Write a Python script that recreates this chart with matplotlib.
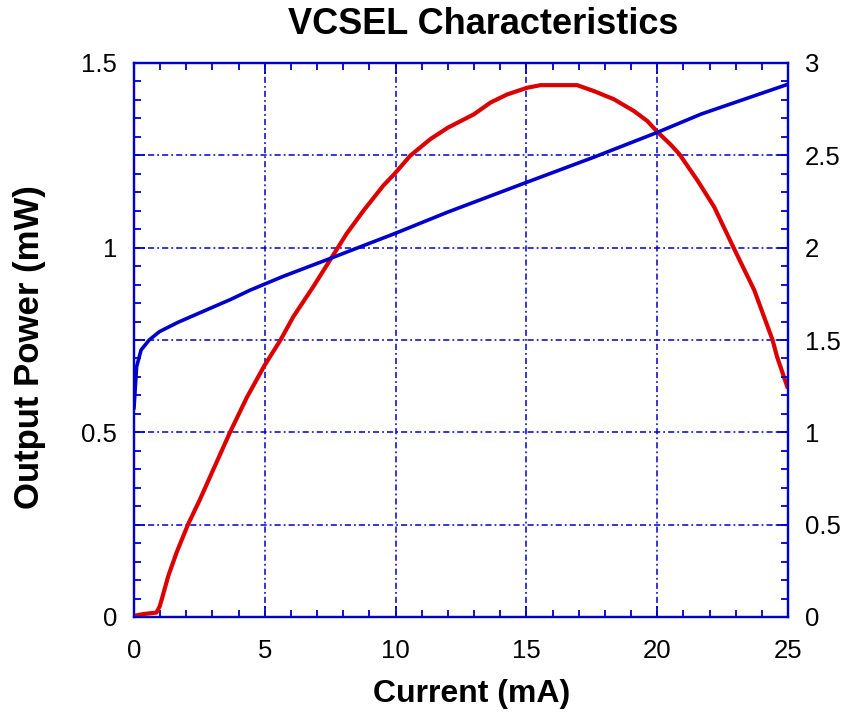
import matplotlib
matplotlib.use("Agg")
import matplotlib.pyplot as plt
from matplotlib.ticker import MultipleLocator, FuncFormatter

# ---- data ----
current_power = [0, 0.36, 0.86, 0.99, 1.31, 1.63, 2.08, 2.52, 3.03, 3.67, 4.31, 4.98,
                 5.6, 6.09, 6.85, 7.49, 8.13, 8.77, 9.53, 9.96, 10.56, 11.33, 12.0,
                 12.99, 13.63, 14.27, 15.03, 15.54, 16.94, 17.58, 18.34, 19.11, 19.62,
                 20.0, 20.5, 20.84, 21.54, 22.18, 22.94, 23.71, 24.41, 24.58, 24.97]
power_mw = [0.003, 0.008, 0.012, 0.03, 0.111, 0.175, 0.253, 0.318, 0.399, 0.500, 0.594, 0.68,
            0.75, 0.813, 0.894, 0.966, 1.038, 1.100, 1.168, 1.200, 1.249, 1.294, 1.325,
            1.361, 1.393, 1.415, 1.433, 1.440, 1.440, 1.424, 1.402, 1.370, 1.343,
            1.314, 1.28, 1.254, 1.182, 1.110, 0.997, 0.885, 0.750, 0.705, 0.624]

current_volt = [0, 0.1, 0.27, 0.58, 0.97, 1.67, 2.56, 3.7, 4.44, 5.71, 7.49, 9.96,
                12.0, 15.03, 17.58, 20.0, 21.69, 25.0]
voltage_v = [1.133, 1.355, 1.446, 1.50, 1.545, 1.595, 1.65, 1.72, 1.77, 1.845, 1.941, 2.076,
             2.193, 2.355, 2.49, 2.624, 2.724, 2.885]

left_ticks = [0, 0.5, 1, 1.5]
right_ticks = [0, 0.5, 1, 1.5, 2, 2.5, 3]
x_ticks = [0, 5, 10, 15, 20, 25]

BLUE = "#0000cc"
RED = "#dd0000"
FONT = "Liberation Sans"

plt.rcParams["font.family"] = [FONT, "DejaVu Sans"]

fig = plt.figure(figsize=(8.46, 7.16), dpi=100)
W, H = 846, 716
left, right, top, bottom = 134, 788, 63, 617
ax1 = fig.add_axes([left / W, 1 - bottom / H, (right - left) / W, (bottom - top) / H])
ax2 = ax1.twinx()

# red curve on left axis
ax1.plot(current_power, power_mw, color=RED, lw=3.0, solid_joinstyle="round", zorder=3)
# blue curve on right axis
ax2.plot(current_volt, voltage_v, color=BLUE, lw=2.6, solid_joinstyle="round", zorder=3)

ax1.set_xlim(0, 25)
ax1.set_ylim(0, 1.5)
ax2.set_ylim(0, 3)

ax1.xaxis.set_major_locator(MultipleLocator(5))
ax1.xaxis.set_minor_locator(MultipleLocator(1))
ax1.yaxis.set_major_locator(MultipleLocator(0.25))
ax1.yaxis.set_minor_locator(MultipleLocator(0.05))

def left_fmt(v, pos):
    if abs(v * 2 - round(v * 2)) < 1e-6:
        return "%g" % v
    return ""
ax1.yaxis.set_major_formatter(FuncFormatter(left_fmt))

ax2.yaxis.set_major_locator(MultipleLocator(0.5))
ax2.yaxis.set_minor_locator(MultipleLocator(0.1))
ax2.yaxis.set_major_formatter(FuncFormatter(lambda v, p: "%g" % v))

grid_style = (0, (4, 2, 1.2, 2))
ax1.set_axisbelow(True)
ax1.grid(True, which="major", color=BLUE, lw=1.1, linestyle=grid_style)

for ax in (ax1, ax2):
    for sp in ax.spines.values():
        sp.set_color(BLUE)
        sp.set_linewidth(1.6)

ax1.tick_params(axis="both", which="both", direction="in", color=BLUE, width=1.3,
                labelsize=18.5, labelcolor="black")
ax1.tick_params(axis="x", which="both", top=True, pad=16)
ax1.tick_params(axis="y", which="both", right=False, pad=12)
ax1.tick_params(which="major", length=8)
ax1.tick_params(which="minor", length=5)
ax2.tick_params(axis="y", which="both", direction="in", color=BLUE, width=1.3,
                labelsize=18.5, labelcolor="black", pad=12)
ax2.tick_params(which="major", length=8)
ax2.tick_params(which="minor", length=5)

ax1.set_xticks(x_ticks)
ax1.set_xlabel("Current (mA)", fontsize=23, fontweight="bold", va="center")
ax1.xaxis.set_label_coords((472 - left) / (right - left), -(694 - bottom) / (bottom - top))
ax1.set_ylabel("Output Power (mW)", fontsize=25, fontweight="bold", va="center")
ax1.yaxis.set_label_coords(-(left - 30) / (right - left), (bottom - 347) / (bottom - top))

fig.text(483 / W, 1 - 25 / H, "VCSEL Characteristics", fontsize=26, fontweight="bold",
         ha="center", va="center")

fig.savefig("out.png", dpi=100)
